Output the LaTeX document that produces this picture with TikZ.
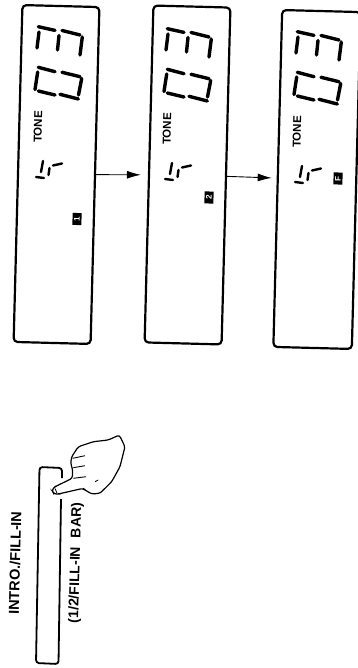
\documentclass[tikz,border=0pt]{standalone}
\usepackage{fontspec}
\setmainfont{Liberation Sans}
\usetikzlibrary{arrows.meta}

\begin{document}
\begin{tikzpicture}[x=1pt, y=-1pt,
	panel/.style={rectangle,draw=black,line width=2.2pt,rounded corners=4pt,rotate=-1.5,minimum width=77pt,minimum height=337pt},
	seg/.style={line width=3.4pt,line cap=round},
	smallseg/.style={line width=2.4pt,line cap=round},
	title/.style={font=\bfseries,inner sep=0pt,rotate=88.5},
	tag/.style={fill=black,text=white,font=\bfseries\fontsize{8}{8}\selectfont,inner sep=0pt,minimum width=12pt,minimum height=9pt,rotate=88.5},
	flow/.style={line width=0.9pt,-{Latex[length=14pt,width=8pt]}}]
	\useasboundingbox (0,0) rectangle (357,668);
	\node[panel] (panelone) at (56.5,174.5) {};
	\node[panel] (paneltwo) at (187.5,175) {};
	\node[panel, minimum width=78.5pt] (panelthree) at (317,179.5) {};
	\foreach \dx/\dy/\n in {0/0/one, 129/2/two, 259/5/three} {
		\begin{scope}[shift={(\dx,\dy)}]
			% large digits
			\draw[seg] (38.3,26.7) -- (55,30.4);
			\draw[seg] (62,30.5) -- (80,35);
			\draw[seg] (39,32) -- (37,48);
			\draw[seg] (59,35.5) -- (57.5,50);
			\draw[seg] (82.3,37) -- (80,55);
			\draw[seg] (38.3,67.3) -- (55,71.7);
			\draw[seg] (62,72.3) -- (80,76.7);
			\draw[seg] (37.7,72) -- (35,89.5);
			\draw[seg] (81.7,78.5) -- (78.5,95);
			\draw[seg] (38.3,91) -- (55,95);
			\draw[seg] (60,94.3) -- (78.3,99);
			% small digit
			\draw[smallseg] (43,161) -- (41,172);
			\draw[smallseg] (36,177) -- (44,178);
			\draw[smallseg] (53,165.5) -- (62,163.5);
			\draw[smallseg] (49.5,168) -- (48.5,175);
			\node[title, font=\bfseries\fontsize{11.5}{11.5}\selectfont] (tone\n) at (38,127) {TONE};
		\end{scope}
	}
	\node[tag] (tagone) at (77,219) {1};
	\node[tag] (tagtwo) at (209,197.5) {2};
	\node[tag] (tagthree) at (338,178.5) {F};
	\draw[flow, shorten >=7pt] (panelone) -- (paneltwo);
	\draw[flow, shorten >=5pt] (paneltwo) -- (panelthree);
	% button with a gap for the finger
	\coordinate (btntop) at (62,478);
	\coordinate (btnend) at (61,499);
	\draw[line width=1.8pt, rounded corners=3pt] (btntop) -- (62,468) -- (39.5,467) -- (36,663) -- (58.5,664) -- (btnend);
	\node[title, font=\bfseries\fontsize{14.5}{14.5}\selectfont] (barname) at (15,563) {INTRO./FILL-IN};
	\node[title, font=\bfseries\fontsize{14}{14}\selectfont] (barnote) at (76,563) {(1/2/FILL-IN\hspace{5pt} BAR)};
	% hand
	\draw[line width=1.2pt, rounded corners=2.5pt] (119.3,435) -- (108.3,440) -- (93.3,441.7) -- (78.3,446.7) -- (71.7,456.7) -- (70.7,463.3) -- (72.7,470) -- (72.3,478.3) -- (55,486.7) -- (51.7,490) -- (54,494) -- (58.3,494) -- (83.3,488.3) -- (85,490) -- (91.7,494) -- (100,493.3) -- (111.7,481.7) -- (120,466.7) -- (125,446.7) -- cycle;
	\draw[line width=0.9pt] (72.7,458.3) -- (85,455.7);
	\draw[line width=0.9pt] (73.3,467.7) -- (85,465.7);
	\draw[line width=0.9pt] (73.3,478.3) -- (86,476.7);
	\draw[line width=0.8pt] (95,481.7) -- (98.3,480);
	\draw[line width=0.8pt] (55,488.5) -- (57,493);
\end{tikzpicture}
\end{document}
